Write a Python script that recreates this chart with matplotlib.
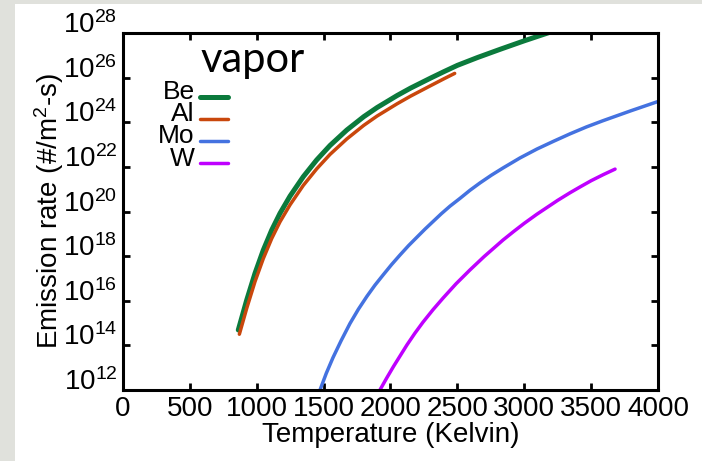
import numpy as np
import matplotlib
matplotlib.use("Agg")
import matplotlib.pyplot as plt
from matplotlib.patches import Rectangle
from matplotlib.lines import Line2D
from matplotlib.legend_handler import HandlerLine2D
from matplotlib.ticker import FixedLocator, NullLocator

# temperature (K) and log10 emission rate (#/m^2-s)
be_temp = [862, 925, 987, 1049, 1112, 1174, 1249, 1348, 1448, 1548, 1673, 1800, 1900,
           2050, 2150, 2300, 2400, 2500, 2650, 2820, 3000, 3200]
be_log = [14.69, 16.03, 17.23, 18.27, 19.17, 19.92, 20.69, 21.56, 22.31, 22.96, 23.65, 24.25,
          24.66, 25.2, 25.53, 25.98, 26.27, 26.55, 26.9, 27.27, 27.65, 28.05]

al_temp = [870, 925, 987, 1049, 1112, 1174, 1249, 1348, 1448, 1548, 1673, 1800, 1900,
           2050, 2150, 2300, 2400, 2480]
al_log = [14.5, 15.66, 16.86, 17.89, 18.79, 19.54, 20.3, 21.17, 21.91, 22.56, 23.25, 23.86,
          24.28, 24.83, 25.17, 25.64, 25.95, 26.19]

mo_temp = [1473, 1520, 1570, 1630, 1697, 1760, 1824, 1884, 1944, 2008, 2071, 2135, 2198,
           2258, 2318, 2380, 2445, 2520, 2594, 2669, 2755, 2841, 2968, 3095, 3220, 3342,
           3465, 3589, 3800, 4000]
mo_log = [12.0, 12.75, 13.45, 14.2, 14.98, 15.62, 16.2, 16.7, 17.15, 17.62, 18.05, 18.47,
          18.85, 19.21, 19.55, 19.9, 20.24, 20.59, 20.95, 21.28, 21.63, 21.95, 22.4, 22.8,
          23.15, 23.48, 23.79, 24.07, 24.52, 24.93]

w_temp = [1921, 1970, 2022, 2123, 2183, 2243, 2318, 2393, 2490, 2594, 2700, 2841, 2920,
          3000, 3095, 3250, 3342, 3420, 3500, 3590, 3679]
w_log = [12.0, 12.52, 13.05, 14.02, 14.55, 15.04, 15.6, 16.12, 16.76, 17.38, 17.98, 18.72,
         19.1, 19.47, 19.88, 20.5, 20.84, 21.11, 21.38, 21.65, 21.9]

x_ticks = [0, 500, 1000, 1500, 2000, 2500, 3000, 3500, 4000]
y_exponents = [12, 14, 16, 18, 20, 22, 24, 26, 28]

series = [
    ("Be", be_temp, be_log, "#0b7a3c", 3.6),
    ("Al", al_temp, al_log, "#c9470c", 2.5),
    ("Mo", mo_temp, mo_log, "#4472e0", 2.5),
    ("W", w_temp, w_log, "#bf00ff", 2.5),
]


class BaselineLine(HandlerLine2D):
    # legend swatch sits near the text baseline, as in the original
    def create_artists(self, legend, orig_handle, xdescent, ydescent,
                       width, height, fontsize, trans):
        arts = super().create_artists(legend, orig_handle, xdescent, ydescent,
                                      width, height, fontsize, trans)
        for a in arts:
            if isinstance(a, Line2D):
                a.set_ydata(np.asarray(a.get_ydata()) - 0.27 * fontsize)
        return arts


plt.rcParams["font.family"] = ["Liberation Sans", "DejaVu Sans"]
plt.rcParams["mathtext.default"] = "regular"

fig = plt.figure(figsize=(7.02, 4.61), dpi=100, facecolor="#e0e1dc")
fig.patches.append(Rectangle((15 / 702, 0), 1, 1 - 4 / 461, transform=fig.transFigure,
                             facecolor="white", edgecolor="none", zorder=-1))
ax = fig.add_axes([0.1752, 0.154, 0.7621, 0.7744])
ax.set_facecolor("white")

lines = []
for name, temp, logv, color, lw in series:
    ln, = ax.plot(temp, 10.0 ** np.array(logv), color=color, lw=lw, label=name,
                  solid_capstyle="round", solid_joinstyle="round")
    lines.append(ln)

ax.set_yscale("log")
ax.set_xlim(0, 4000)
ax.set_ylim(1e12, 1e28)

ax.xaxis.set_major_locator(FixedLocator(x_ticks))
ax.set_xticklabels([str(t) for t in x_ticks])
ax.yaxis.set_major_locator(FixedLocator([10.0 ** e for e in y_exponents]))
ax.yaxis.set_minor_locator(NullLocator())
ax.set_yticklabels([rf"$10^{{{e}}}$" for e in y_exponents])
for lab in ax.get_yticklabels():
    lab.set_va("baseline")

ax.tick_params(which="both", direction="in", top=True, right=True,
               length=5, width=2, labelsize=20, pad=4)
for sp in ax.spines.values():
    sp.set_linewidth(2.2)

ax.set_xlabel("Temperature (Kelvin)", fontsize=20, labelpad=0)
ax.set_ylabel("Emission rate (#/m$^2$-s)", fontsize=20, labelpad=-2)

ax.text(0.144, 0.891, "vapor", transform=ax.transAxes, fontsize=30,
        family="Lato", ha="left", va="baseline")

ax.legend(handles=lines, handler_map={Line2D: BaselineLine()},
          loc="upper right", bbox_to_anchor=(0.196, 0.868), frameon=False,
          markerfirst=False, fontsize=19, handlelength=1.05, handletextpad=0.2,
          labelspacing=-0.07, borderpad=0, borderaxespad=0)

fig.savefig("out.png", dpi=100, facecolor=fig.get_facecolor())
